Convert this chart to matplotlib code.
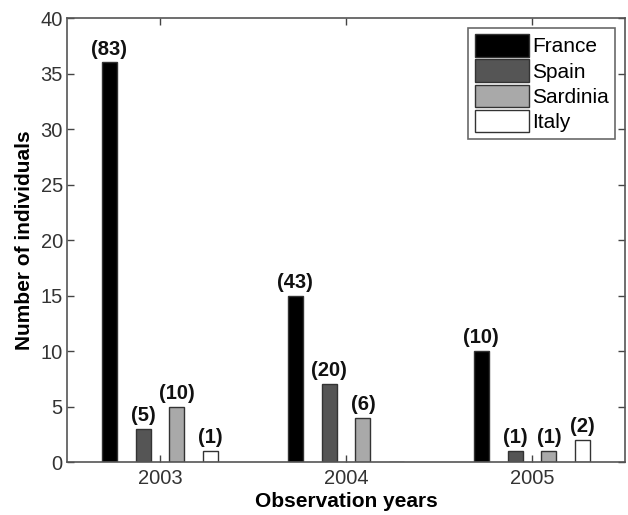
import matplotlib
matplotlib.use("Agg")
import matplotlib.pyplot as plt
import numpy as np

plt.rcParams['font.family'] = ['Liberation Sans', 'DejaVu Sans']

years = [2003, 2004, 2005]
countries = ["France", "Spain", "Sardinia", "Italy"]
france = [36, 15, 10]
spain = [3, 7, 1]
sardinia = [5, 4, 1]
italy = [1, 0, 2]
france_lbl = ["(83)", "(43)", "(10)"]
spain_lbl = ["(5)", "(20)", "(1)"]
sardinia_lbl = ["(10)", "(6)", "(1)"]
italy_lbl = ["(1)", "", "(2)"]

series = [france, spain, sardinia, italy]
labels = [france_lbl, spain_lbl, sardinia_lbl, italy_lbl]
colors = ["#000000", "#555555", "#a9a9a9", "#ffffff"]
offsets = [-0.273, -0.091, 0.091, 0.273]
width = 0.08

fig = plt.figure(figsize=(6.28, 5.15), dpi=100)
ax = fig.add_axes([0.1067, 0.1029, 0.8885, 0.862])

x = np.array(years, dtype=float)
for vals, lbls, col, off, name in zip(series, labels, colors, offsets, countries):
    bars = ax.bar(x + off, vals, width=width, color=col, edgecolor="#333333",
                  linewidth=1.0, label=name, zorder=2)
    for b, v, t in zip(bars, vals, lbls):
        if t:
            ax.text(b.get_x() + b.get_width() / 2, v + 0.35, t, ha="center",
                    va="bottom", fontsize=14.5, fontweight="bold", color="#111111")

ax.set_xlim(2002.5, 2005.5)
ax.set_ylim(0, 40)
ax.set_xticks(years)
ax.set_xticklabels([str(y) for y in years])
ax.set_yticks(range(0, 41, 5))
ax.tick_params(direction="in", length=5, top=True, right=True, labelsize=14.5,
               color="#444444", labelcolor="#333333", width=1)
ax.tick_params(axis="x", pad=5)
ax.tick_params(axis="y", pad=3)
for s in ax.spines.values():
    s.set_color("#555555")
    s.set_linewidth(1.2)

ax.set_xlabel("Observation years", fontsize=15, fontweight="bold", labelpad=3)
ax.set_ylabel("Number of individuals", fontsize=15, fontweight="bold", labelpad=5)

leg = ax.legend(loc="upper right", bbox_to_anchor=(0.982, 0.978), fontsize=15,
                frameon=True, fancybox=False, handlelength=2.6, handleheight=1.3,
                handletextpad=0.15, borderpad=0.3, labelspacing=0.12,
                borderaxespad=0)
leg.get_frame().set_edgecolor("#444444")
leg.get_frame().set_linewidth(1.2)

fig.savefig("out.png", dpi=100)
